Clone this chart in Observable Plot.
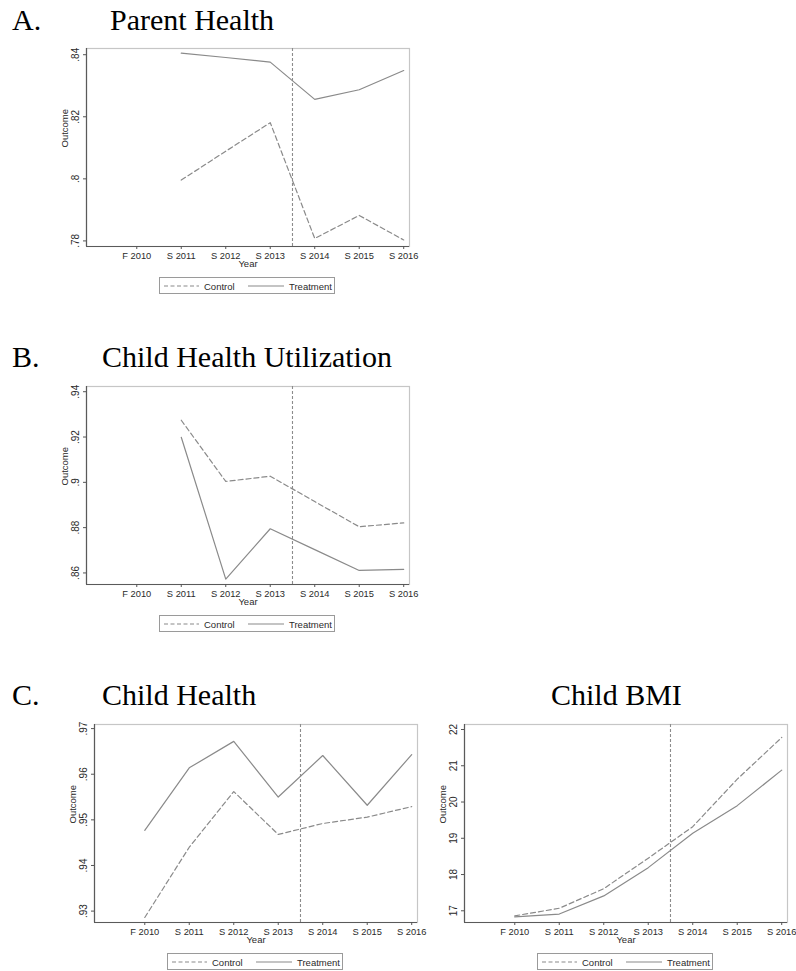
<!DOCTYPE html>
<html>
<head>
<meta charset="utf-8">
<script src="https://cdn.jsdelivr.net/npm/d3@7"></script>
<script src="https://cdn.jsdelivr.net/npm/@observablehq/plot@0.6"></script>
<style>
  html, body { margin: 0; padding: 0; background: #fff; }
  #page { position: relative; width: 796px; height: 971px; background: #fff; overflow: hidden; }
  .panel { position: absolute; }
  .ttl { position: absolute; font-family: "Liberation Serif", "Times New Roman", serif; font-size: 30px; color: #000; white-space: nowrap; line-height: 1; }
  .legend { position: absolute; width: 176px; height: 17px; border: 1px solid #9a9a9a; box-sizing: border-box; background: #fff; }
  .legend svg { position: absolute; left: 0; top: 0; }
</style>
</head>
<body>
<div id="page"></div>
<script>
// ---- data ----
const waves = ["F 2010", "S 2011", "S 2012", "S 2013", "S 2014", "S 2015", "S 2016"];
const parentControl   = [null, 0.7996, 0.8089, 0.8181, 0.7808, 0.7882, 0.7803];
const parentTreatment = [null, 0.8405, 0.8391, 0.8376, 0.8256, 0.8287, 0.8349];
const utilControl     = [null, 0.9274, 0.9004, 0.9027, 0.8915, 0.8804, 0.8821];
const utilTreatment   = [null, 0.9199, 0.8573, 0.8795, 0.8703, 0.8611, 0.8616];
const childControl    = [0.9286, 0.9440, 0.9562, 0.9468, 0.9492, 0.9506, 0.9529];
const childTreatment  = [0.9477, 0.9614, 0.9672, 0.9550, 0.9641, 0.9532, 0.9643];
const bmiControl      = [16.86, 17.07, 17.61, 18.45, 19.32, 20.63, 21.78];
const bmiTreatment    = [16.83, 16.91, 17.41, 18.19, 19.14, 19.90, 20.88];

const parentTicks = [0.78, 0.80, 0.82, 0.84];
const parentTickLabels = [".78", ".8", ".82", ".84"];
const utilTicks = [0.86, 0.88, 0.90, 0.92, 0.94];
const utilTickLabels = [".86", ".88", ".9", ".92", ".94"];
const childTicks = [0.93, 0.94, 0.95, 0.96, 0.97];
const childTickLabels = [".93", ".94", ".95", ".96", ".97"];
const bmiTicks = [17, 18, 19, 20, 21, 22];
const bmiTickLabels = ["17", "18", "19", "20", "21", "22"];

const policyBreak = 3.5; // between S 2013 and S 2014
const seriesNames = ["Control", "Treatment"];

// ---- layout ----
const xDomain = [-1.13, 6.13];
const lineColor = "#8a8a8a";
const sans = "'Liberation Sans', Arial, sans-serif";

function toRows(values) {
  return values.map((v, i) => ({ i, v })).filter(d => d.v != null);
}

function panel(cfg) {
  const rows = { c: toRows(cfg.control), t: toRows(cfg.treatment) };
  const labelOf = new Map(cfg.ticks.map((t, k) => [t, cfg.tickLabels[k]]));
  const chart = Plot.plot({
    width: cfg.width,
    height: 240,
    marginLeft: cfg.ml,
    marginRight: cfg.mr,
    marginTop: 10,
    marginBottom: 32,
    x: { type: "linear", domain: xDomain },
    y: { type: "linear", domain: cfg.yDomain },
    style: { fontFamily: sans, fontSize: "9.5px", color: "#2a2a2a", background: "transparent", overflow: "visible" },
    marks: [
      Plot.frame({ stroke: "#c6c6c6", strokeWidth: 1.2 }),
      Plot.ruleX([policyBreak], { stroke: "#8c8c8c", strokeWidth: 1.1, strokeDasharray: "3,2" }),
      Plot.line(rows.c, { x: "i", y: "v", stroke: lineColor, strokeWidth: 1.2, strokeDasharray: "5,3" }),
      Plot.line(rows.t, { x: "i", y: "v", stroke: lineColor, strokeWidth: 1.2 }),
      Plot.ruleX([xDomain[0]], { stroke: "#5a5a5a", strokeWidth: 1.2 }),
      Plot.ruleY([cfg.yDomain[0]], { stroke: "#5a5a5a", strokeWidth: 1.2 }),
      Plot.axisX({ ticks: d3.range(waves.length), tickFormat: i => waves[i], tickSize: 3, tickPadding: 3, fontSize: 9.3, label: null, stroke: "#555" }),
      Plot.axisY({ ticks: cfg.ticks, tickFormat: t => labelOf.get(t), tickSize: 3, tickPadding: 5, fontSize: 10, tickRotate: -90, label: null, stroke: "#555" }),
      Plot.text(["Outcome"], { frameAnchor: "left", rotate: -90, dx: -22, fontSize: 9.5, fill: "#2a2a2a" }),
      Plot.text(["Year"], { frameAnchor: "bottom", dy: 20, fontSize: 9.5, fill: "#2a2a2a" })
    ]
  });
  chart.classList.add("panel");
  chart.style.left = cfg.left + "px";
  chart.style.top = cfg.top + "px";
  return chart;
}

function legend(left, top) {
  const div = document.createElement("div");
  div.className = "legend";
  div.style.left = left + "px";
  div.style.top = top + "px";
  const svg = d3.create("svg").attr("width", 176).attr("height", 17);
  svg.append("line").attr("x1", 4).attr("x2", 39).attr("y1", 8).attr("y2", 8)
    .attr("stroke", lineColor).attr("stroke-width", 1.1).attr("stroke-dasharray", "4,2.5");
  svg.append("text").attr("x", 44).attr("y", 11.5).attr("font-family", sans).attr("font-size", 9.5).attr("fill", "#2a2a2a").text(seriesNames[0]);
  svg.append("line").attr("x1", 88).attr("x2", 124).attr("y1", 8).attr("y2", 8)
    .attr("stroke", lineColor).attr("stroke-width", 1.1);
  svg.append("text").attr("x", 129).attr("y", 11.5).attr("font-family", sans).attr("font-size", 9.5).attr("fill", "#2a2a2a").text(seriesNames[1]);
  div.appendChild(svg.node());
  return div;
}

function title(text, left, baseline) {
  const d = document.createElement("div");
  d.className = "ttl";
  d.textContent = text;
  d.style.left = left + "px";
  d.style.top = (baseline - 27) + "px";
  return d;
}

const page = document.getElementById("page");

page.appendChild(title("A.", 12, 32));
page.appendChild(title("Parent Health", 110, 32));
page.appendChild(panel({ left: 0, top: 38, width: 430, ml: 86, mr: 21, yDomain: [0.7782, 0.8420],
  control: parentControl, treatment: parentTreatment, ticks: parentTicks, tickLabels: parentTickLabels }));
page.appendChild(legend(159, 277));

page.appendChild(title("B.", 12, 369));
page.appendChild(title("Child Health Utilization", 102, 369));
page.appendChild(panel({ left: 0, top: 376, width: 430, ml: 86, mr: 21, yDomain: [0.8549, 0.9423],
  control: utilControl, treatment: utilTreatment, ticks: utilTicks, tickLabels: utilTickLabels }));
page.appendChild(legend(159, 615));

page.appendChild(title("C.", 12, 707));
page.appendChild(title("Child Health", 102, 707));
page.appendChild(panel({ left: 0, top: 714, width: 430, ml: 94, mr: 13, yDomain: [0.9275, 0.9709],
  control: childControl, treatment: childTreatment, ticks: childTicks, tickLabels: childTickLabels }));
page.appendChild(legend(167, 953));

page.appendChild(title("Child BMI", 551, 707));
page.appendChild(panel({ left: 380, top: 714, width: 416, ml: 84, mr: 9, yDomain: [16.677, 22.138],
  control: bmiControl, treatment: bmiTreatment, ticks: bmiTicks, tickLabels: bmiTickLabels }));
page.appendChild(legend(537, 953));
</script>
</body>
</html>
